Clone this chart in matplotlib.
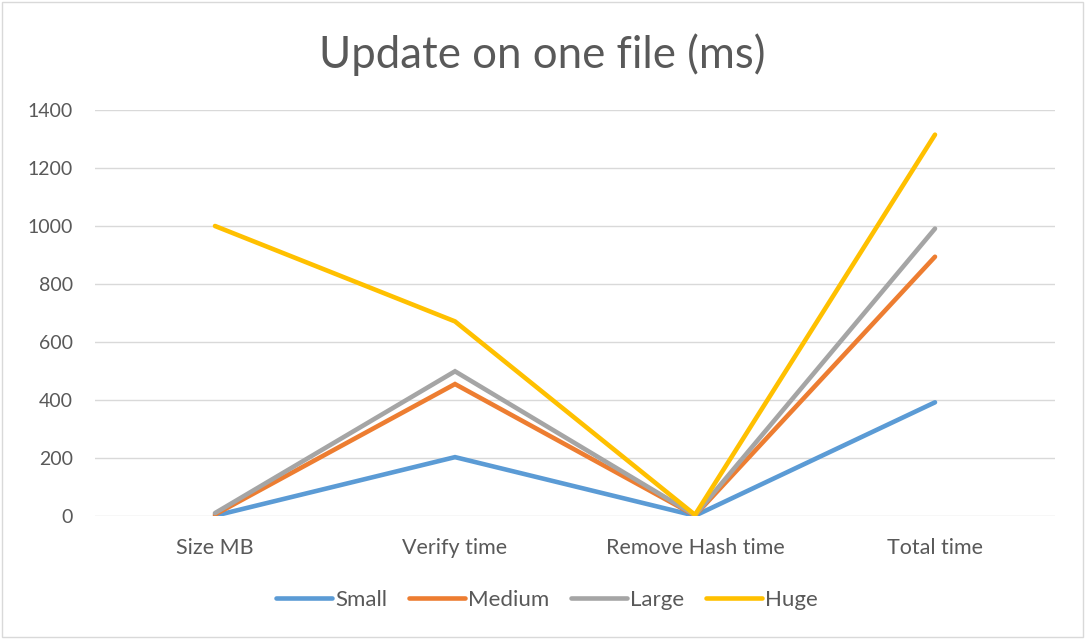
import matplotlib.pyplot as plt
from matplotlib.patches import Rectangle

plt.rcParams['font.family'] = ['Lato', 'DejaVu Sans']

categories = ["Size MB", "Verify time", "Remove Hash time", "Total time"]
series_names = ["Small", "Medium", "Large", "Huge"]
small = [1, 203, 1, 392]
medium = [5, 455, 2, 894]
large = [10, 499, 3, 991]
huge = [1000, 671, 4, 1315]
colors = ["#5B9BD5", "#ED7D31", "#A5A5A5", "#FFC000"]
y_ticks = [0, 200, 400, 600, 800, 1000, 1200, 1400]

text_color = "#595959"
grid_color = "#D9D9D9"

fig = plt.figure(figsize=(10.85, 6.39), dpi=100)
ax = fig.add_axes([95 / 1085, 1 - 516 / 639, 960 / 1085, 406 / 639])

x = range(len(categories))
for name, vals, c in zip(series_names, [small, medium, large, huge], colors):
    ax.plot(x, vals, color=c, lw=3.3, solid_capstyle="round",
            solid_joinstyle="miter", label=name)

ax.set_xlim(-0.5, len(categories) - 0.5)
ax.set_ylim(0, 1400)
ax.set_yticks(y_ticks)
ax.set_xticks(list(x))
ax.set_xticklabels(categories)
ax.tick_params(length=0, labelsize=14, labelcolor=text_color)
ax.tick_params(axis="y", pad=16)
ax.tick_params(axis="x", pad=16, labelsize=15.5)
ax.grid(axis="y", color=grid_color, lw=1)
ax.set_axisbelow(True)
for s in ax.spines.values():
    s.set_visible(False)

fig.text(0.5, 1 - 55 / 639, "Update on one file (ms)", ha="center", va="center",
         fontsize=31.5, color=text_color)

leg = fig.legend(loc="center", bbox_to_anchor=(547 / 1085, 1 - 600 / 639),
                 ncol=4, frameon=False, fontsize=16, handlelength=2.5,
                 handletextpad=0.14, columnspacing=1.0)
for t in leg.get_texts():
    t.set_color(text_color)

# chart area border
fig.patches.append(Rectangle((0.002, 0.003), 0.996, 0.994, transform=fig.transFigure,
                             fill=False, edgecolor=grid_color, lw=1))

fig.savefig("out.png", dpi=100)
